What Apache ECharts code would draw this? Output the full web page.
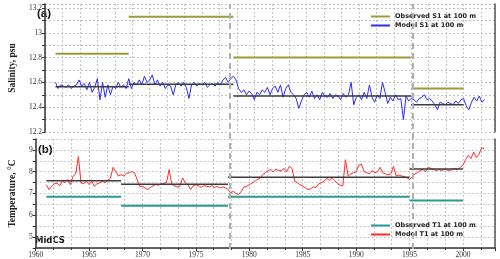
<!DOCTYPE html>
<html><head><meta charset="utf-8">
<script src="https://cdn.jsdelivr.net/npm/echarts@6/dist/echarts.min.js"></script>
<style>html,body{margin:0;padding:0;background:#fff}#c{width:500px;height:259px}</style>
</head><body><div id="c"></div>
<script>
// ---- data ----
const startYear = 1961;
const stepYear = 0.25;
const modelS1 = [
12.60,12.55,12.58,12.57, 12.56,12.58,12.55,12.57, 12.58,12.62,12.57,12.59, 12.54,12.60,12.52,12.56,
12.63,12.46,12.60,12.48, 12.58,12.50,12.57,12.55, 12.60,12.56,12.58,12.55, 12.63,12.55,12.60,12.58,
12.62,12.58,12.65,12.60, 12.62,12.66,12.58,12.62, 12.57,12.60,12.55,12.58, 12.57,12.50,12.58,12.60,
12.57,12.60,12.56,12.47, 12.58,12.60,12.57,12.59, 12.58,12.60,12.56,12.58, 12.59,12.57,12.60,12.58,
12.62,12.64,12.60,12.63, 12.65,12.62,12.55,12.52, 12.54,12.50,12.53,12.51, 12.46,12.52,12.50,12.54,
12.52,12.56,12.50,12.55, 12.57,12.52,12.58,12.48, 12.55,12.58,12.52,12.50, 12.47,12.39,12.45,12.50,
12.52,12.48,12.53,12.47, 12.50,12.46,12.52,12.49, 12.48,12.51,12.47,12.50, 12.49,12.46,12.51,12.48,
12.50,12.60,12.42,12.48, 12.50,12.46,12.52,12.47, 12.58,12.48,12.44,12.50, 12.47,12.60,12.52,12.43,
12.48,12.45,12.50,12.46, 12.47,12.30,12.49,12.45, 12.47,12.46,12.44,12.47, 12.48,12.50,12.46,12.47,
12.45,12.42,12.38,12.44, 12.43,12.42,12.44,12.43, 12.42,12.45,12.43,12.46, 12.47,12.41,12.38,12.44,
12.48,12.45,12.49,12.44, 12.46
];
const modelT1 = [
7.40,7.18,7.33,7.45, 7.48,7.35,7.56,7.50, 7.64,7.41,7.79,7.90, 8.70,7.48,7.45,7.55,
7.41,7.56,7.33,7.45, 7.48,7.56,7.50,7.60, 7.71,8.20,8.00,7.80, 7.86,7.80,7.93,7.95,
8.00,7.95,7.64,7.33, 7.33,7.25,7.18,7.28, 7.35,7.41,7.38,7.44, 7.46,7.50,8.10,7.42,
7.35,7.30,7.34,7.71, 7.50,7.40,7.18,7.35, 7.40,7.35,7.28,7.36, 7.33,7.30,7.36,7.28,
7.32,7.25,7.30,7.27, 7.20,7.02,7.10,7.00, 6.95,7.10,7.30,7.33, 7.40,7.48,7.55,7.64,
7.70,7.86,7.95,8.05, 8.10,8.00,8.12,8.05, 8.05,8.15,8.00,8.25, 8.15,7.56,7.50,7.40,
7.35,7.25,7.18,7.22, 7.30,7.28,7.45,7.50, 7.55,7.70,7.60,7.72, 7.60,7.45,7.38,7.35,
8.55,7.80,7.90,7.95, 8.00,8.30,8.35,8.00, 7.95,7.90,8.05,7.95, 8.00,8.20,7.95,7.90,
7.85,7.90,8.25,7.80, 7.85,7.80,7.78,7.72, 7.65,7.75,7.90,7.95, 8.05,8.10,8.00,8.20,
8.15,8.10,8.05,8.10, 8.05,8.10,8.08,8.05, 8.10,8.15,8.10,8.20, 8.30,8.55,8.75,8.60,
8.90,8.65,8.80,9.10, 9.05
];
const periodStart = [1961, 1968, 1978, 1995];
const periodEnd   = [1968, 1978, 1995, 2000];
const obsS1  = [12.83, 13.13, 12.80, 12.55];
const meanS1 = [12.565, 12.585, 12.49, 12.42];
const obsT1  = [6.85, 6.44, 6.85, 6.68];
const meanT1 = [7.59, 7.42, 7.75, 8.12];
const breakYears = [1978.5, 1995.4];
const nameObsS1 = 'Observed S1 at 100 m';
const nameModS1 = 'Model S1 at 100 m';
const nameObsT1 = 'Observed T1 at 100 m';
const nameModT1 = 'Model T1 at 100 m';

// ---- build ----
function series(vals){ return vals.map((v,i)=>[startYear + i*stepYear, v]); }
function segs(vals){
  const out = [];
  vals.forEach((v,i)=>{ out.push([periodStart[i], v]); out.push([periodEnd[i], v]); out.push([periodEnd[i], '-']); });
  return out;
}
const serif = 'Liberation Serif';
const gridLine = {show:true, lineStyle:{color:'#c4c4c4', width:1, type:[2,2]}};
function xAx(gi, showLab){
  return {type:'value', gridIndex:gi, min:1960, max:2003, interval:5,
    axisLine:{show:showLab, onZero:false, lineStyle:{color:'#333', width:1.5}},
    axisTick:{show:showLab, length:3, lineStyle:{color:'#333'}},
    minorTick:{show:showLab, splitNumber:3, length:2, lineStyle:{color:'#333'}},
    axisLabel:{show:showLab, margin:3, fontFamily:serif, fontSize:7.5, color:'#333',
      formatter:v=> (Math.abs(v%5)<1e-6 && v<=2000) ? String(v) : ''},
    splitLine:gridLine, minorSplitLine:gridLine};
}
const yS = {type:'value', gridIndex:0, min:12.2, max:13.232, interval:0.1,
  name:'Salinity, psu', nameLocation:'middle', nameGap:14,
  nameTextStyle:{fontFamily:serif, fontWeight:'bold', fontSize:9.5, color:'#222'},
  axisLine:{show:true, lineStyle:{color:'#333', width:1.5}},
  axisTick:{show:true, length:3, lineStyle:{color:'#333'}},
  axisLabel:{margin:3, fontFamily:serif, fontSize:7.5, color:'#333',
    formatter:v=>{ const k=Math.round(v*10); return (Math.abs(v*10-k)<1e-6 && k%2===0) ? String(+v.toFixed(1)) : ''; }},
  splitLine:gridLine};
const yT = {type:'value', gridIndex:1, min:4.5, max:9.5, interval:0.5,
  name:'Temperature, °C', nameLocation:'middle', nameGap:15,
  nameTextStyle:{fontFamily:serif, fontWeight:'bold', fontSize:9.5, color:'#222'},
  axisLine:{show:true, lineStyle:{color:'#333', width:1.5}},
  axisTick:{show:true, length:3, lineStyle:{color:'#333'}},
  axisLabel:{margin:3, fontFamily:serif, fontSize:7.5, color:'#333',
    formatter:v=> (Math.abs(v-Math.round(v))<1e-6) ? String(Math.round(v)) : ''},
  splitLine:gridLine};
function border(gi, mn, mx){
  return {type:'value', gridIndex:gi, min:mn, max:mx, position:'right',
    axisLine:{show:true, lineStyle:{color:'#555', width:1.5}},
    axisTick:{show:false}, axisLabel:{show:false}, splitLine:{show:false}};
}
const hidden = {show:false};
const legTxt = {fontFamily:'DejaVu Sans', fontWeight:'bold', fontSize:6.5, color:'#222'};

const option = {
  animation:false,
  backgroundColor:'#fff',
  grid:[{left:29, right:5, top:4, height:128}, {left:29, right:5, top:139, height:110},
        {left:29, right:5, top:4, height:245}],
  xAxis:[xAx(0,false), xAx(1,true),
    {type:'value', gridIndex:2, min:1960, max:2003, show:false, splitLine:hidden}],
  yAxis:[yS, yT, border(0,12.2,13.232), border(1,4.5,9.5),
    {type:'value', gridIndex:2, min:0, max:1, show:false, splitLine:hidden}],
  legend:[
    {data:[nameObsS1, nameModS1], orient:'vertical', left:371, top:13, icon:'rect', itemWidth:19, itemHeight:2, itemGap:2, padding:0, textStyle:legTxt},
    {data:[nameObsT1, nameModT1], orient:'vertical', left:371, top:222, icon:'rect', itemWidth:19, itemHeight:2, itemGap:2, padding:0, textStyle:legTxt}
  ],
  graphic:[
    {type:'text', left:37, top:8, style:{text:'(a)', font:'bold 11.5px "Liberation Sans"', fill:'#111'}},
    {type:'text', left:38, top:144, style:{text:'(b)', font:'bold 11.5px "Liberation Sans"', fill:'#111'}},
    {type:'text', left:35, top:236, style:{text:'MidCS', font:'bold 8.5px "DejaVu Sans"', fill:'#111'}}
  ],
  series:[
    {name:'breaks', type:'line', xAxisIndex:2, yAxisIndex:4, data:[], symbol:'none', z:1,
      markLine:{silent:true, symbol:'none', label:{show:false},
        lineStyle:{color:'#b0b0b0', width:2, type:[6,4]},
        data: breakYears.map(y=>({xAxis:y}))}},
    {name:nameModS1, type:'line', xAxisIndex:0, yAxisIndex:0, data:series(modelS1), symbol:'none',
      lineStyle:{color:'#2b2bff', width:1}, itemStyle:{color:'#2b2bff'}, z:2},
    {name:'meanS1', type:'line', xAxisIndex:0, yAxisIndex:0, data:segs(meanS1), symbol:'none',
      lineStyle:{color:'#3c3c3c', width:1.5}, z:3},
    {name:nameObsS1, type:'line', xAxisIndex:0, yAxisIndex:0, data:segs(obsS1), symbol:'none',
      lineStyle:{color:'#9e9a3a', width:2}, itemStyle:{color:'#9e9a3a'}, z:3},
    {name:nameModT1, type:'line', xAxisIndex:1, yAxisIndex:1, data:series(modelT1), symbol:'none',
      lineStyle:{color:'#ff2a2a', width:1}, itemStyle:{color:'#ff2a2a'}, z:2},
    {name:'meanT1', type:'line', xAxisIndex:1, yAxisIndex:1, data:segs(meanT1), symbol:'none',
      lineStyle:{color:'#3c3c3c', width:1.5}, z:3},
    {name:nameObsT1, type:'line', xAxisIndex:1, yAxisIndex:1, data:segs(obsT1), symbol:'none',
      lineStyle:{color:'#2a9a96', width:2}, itemStyle:{color:'#2a9a96'}, z:3}
  ]
};
const chart = echarts.init(document.getElementById('c'), null, {renderer:'canvas'});
chart.setOption(option);
</script>
</body></html>
